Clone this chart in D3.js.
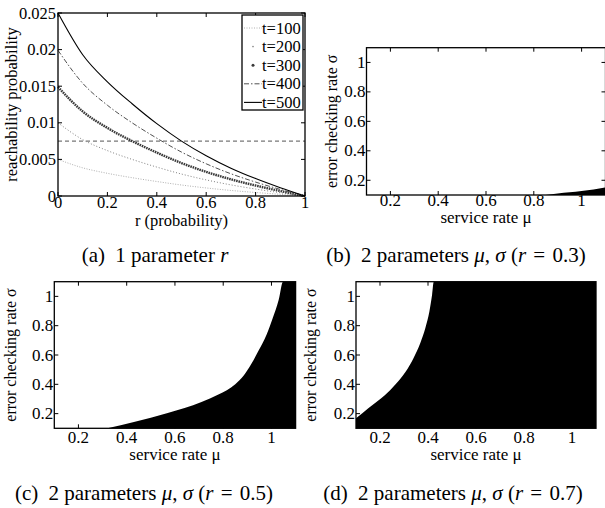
<!DOCTYPE html>
<html><head><meta charset="utf-8">
<script src="https://cdn.jsdelivr.net/npm/d3@7"></script>
<style>
body{margin:0;background:#fff}
svg{display:block}
text{font-family:"Liberation Serif","Times New Roman",serif;fill:#000}
</style>
</head><body><svg id="chart" width="605" height="508"></svg>
<script>
// ---------- data ----------
const rValues = [0, 0.1, 0.2, 0.3, 0.4, 0.5, 0.6, 0.7, 0.8, 0.9, 1];
const seriesNames = ["t=100", "t=200", "t=300", "t=400", "t=500"];
const reachT100 = [0.0050, 0.00385, 0.0031, 0.0025, 0.00198, 0.0015, 0.0011, 0.00076, 0.00048, 0.00023, 0];
const reachT200 = [0.0100, 0.0077, 0.0062, 0.0050, 0.00395, 0.0030, 0.0022, 0.00152, 0.00095, 0.00045, 0];
const reachT300 = [0.0149, 0.01155, 0.0093, 0.0075, 0.00593, 0.0045, 0.0033, 0.00228, 0.00143, 0.00068, 0];
const reachT400 = [0.0199, 0.0154, 0.0124, 0.0100, 0.0079, 0.0060, 0.0044, 0.00304, 0.0019, 0.0009, 0];
const reachT500 = [0.0250, 0.0193, 0.0156, 0.0126, 0.00988, 0.0075, 0.0055, 0.0038, 0.00238, 0.00113, 0];
const thresholdValue = 0.0075;

const rTicks = [0, 0.2, 0.4, 0.6, 0.8, 1];
const rTickLabels = ["0", "0.2", "0.4", "0.6", "0.8", "1"];
const probTicks = [0, 0.005, 0.01, 0.015, 0.02, 0.025];
const probTickLabels = ["0", "0.005", "0.01", "0.015", "0.02", "0.025"];
const muTicks = [0.2, 0.4, 0.6, 0.8, 1];
const muTickLabels = ["0.2", "0.4", "0.6", "0.8", "1"];
const sigmaTicks = [0.2, 0.4, 0.6, 0.8, 1];
const sigmaTickLabels = ["0.2", "0.4", "0.6", "0.8", "1"];

// boundary of the black region: sigma as a function of mu
const boundaryMuR03 = [0.85, 0.90, 0.95, 1.00, 1.05, 1.10];
const boundarySigmaR03 = [0.10, 0.11, 0.118, 0.127, 0.137, 0.152];
const boundaryMuR05 = [0.32, 0.43, 0.57, 0.71, 0.78, 0.85, 0.885, 0.915, 0.945, 0.98, 1.005, 1.03, 1.048, 1.10];
const boundarySigmaR05 = [0.10, 0.143, 0.205, 0.28, 0.33, 0.40, 0.46, 0.535, 0.625, 0.74, 0.85, 0.977, 1.10, 1.10];
const boundaryMuR07 = [0.10, 0.15, 0.22, 0.264, 0.306, 0.34, 0.368, 0.389, 0.406, 0.417, 0.424, 1.10];
const boundarySigmaR07 = [0.168, 0.235, 0.325, 0.398, 0.484, 0.58, 0.682, 0.784, 0.898, 1.011, 1.10, 1.10];

// ---------- drawing ----------
const svg = d3.select("#chart");

function frameAndTicks(g, x, y, xt, xtl, yt, ytl, opt) {
  const [x0, x1] = x.range(), [y0, y1] = y.range();
  const tl = 4;
  const tk = g.append("g").attr("stroke", "#000").attr("stroke-width", 1);
  xt.forEach(v => {
    const px = x(v);
    tk.append("line").attr("x1", px).attr("x2", px).attr("y1", y0).attr("y2", y0 - tl);
    tk.append("line").attr("x1", px).attr("x2", px).attr("y1", y1).attr("y2", y1 + tl);
  });
  yt.forEach(v => {
    const py = y(v);
    tk.append("line").attr("x1", x0).attr("x2", x0 + tl).attr("y1", py).attr("y2", py);
    tk.append("line").attr("x1", x1).attr("x2", x1 - tl).attr("y1", py).attr("y2", py);
  });
  g.append("rect").attr("x", x0).attr("y", y1).attr("width", x1 - x0).attr("height", y0 - y1)
    .attr("fill", "none").attr("stroke", "#000").attr("stroke-width", 1.3);
  xt.forEach((v, i) => {
    g.append("text").attr("x", x(v)).attr("y", y0 + opt.xLabelDy).attr("text-anchor", "middle")
      .attr("font-size", opt.fs).text(xtl[i]);
  });
  yt.forEach((v, i) => {
    g.append("text").attr("x", x0 - opt.yLabelDx).attr("y", y(v)).attr("text-anchor", "end")
      .attr("dominant-baseline", "central").attr("font-size", opt.fs).text(ytl[i]);
  });
}

function caption(cx, cy, parts) {
  const t = svg.append("text").attr("x", cx).attr("y", cy).attr("text-anchor", "middle").attr("font-size", 21);
  parts.forEach(p => {
    const s = t.append("tspan").text(p[0]);
    if (p[1]) s.attr("font-style", "italic");
    if (p[2]) s.attr("dx", p[2]);
  });
}

// ---- panel (a) ----
(function () {
  const g = svg.append("g");
  const x = d3.scaleLinear().domain([0, 1]).range([58, 305]);
  const y = d3.scaleLinear().domain([0, 0.025]).range([196, 13]);
  const seriesData = [reachT100, reachT200, reachT300, reachT400, reachT500];
  const styles = [
    {stroke: "#b0b0b0", w: 1, dash: "1,1.5"},
    {stroke: "#808080", w: 1, dash: "1,2"},
    {stroke: "#3a3a3a", w: 2.4, dash: "1.6,0.8"},
    {stroke: "#505050", w: 1, dash: "5,2,1.5,2"},
    {stroke: "#000", w: 1.1, dash: null}
  ];
  g.append("line").attr("x1", x(0)).attr("x2", x(1)).attr("y1", y(thresholdValue)).attr("y2", y(thresholdValue))
    .attr("stroke", "#555").attr("stroke-width", 1).attr("stroke-dasharray", "4,3");
  const line = d3.line().x(d => x(d[0])).y(d => y(d[1])).curve(d3.curveMonotoneX);
  seriesData.forEach((vals, i) => {
    const st = styles[i];
    g.append("path").datum(rValues.map((r, j) => [r, vals[j]])).attr("d", line)
      .attr("fill", "none").attr("stroke", st.stroke).attr("stroke-width", st.w)
      .attr("stroke-dasharray", st.dash);
  });
  frameAndTicks(g, x, y, rTicks, rTickLabels, probTicks, probTickLabels,
    {fs: 16.5, xLabelDy: 11.5, yLabelDx: 2});
  g.append("text").attr("x", (58 + 305) / 2).attr("y", 226).attr("text-anchor", "middle")
    .attr("font-size", 16.5).text("r (probability)");
  g.append("text").attr("transform", "translate(17," + ((13 + 196) / 2) + ") rotate(-90)")
    .attr("text-anchor", "middle").attr("font-size", 16.5).text("reachability probability");
  // legend
  const lx = 242, ly = 15, lw = 61, lh = 95;
  g.append("rect").attr("x", lx).attr("y", ly).attr("width", lw).attr("height", lh)
    .attr("fill", "#fff").attr("stroke", "#000").attr("stroke-width", 1.3);
  seriesNames.forEach((name, i) => {
    const cy = ly + 13 + i * 18.6;
    const st = styles[i];
    if (i === 1 || i === 2) {
      g.append("circle").attr("cx", lx + 11).attr("cy", cy).attr("r", i === 1 ? 0.8 : 1.5).attr("fill", st.stroke);
    } else {
      g.append("line").attr("x1", lx + 2).attr("x2", lx + 20).attr("y1", cy).attr("y2", cy)
        .attr("stroke", st.stroke).attr("stroke-width", st.w).attr("stroke-dasharray", st.dash);
    }
    g.append("text").attr("x", lx + 20).attr("y", cy).attr("dominant-baseline", "central")
      .attr("font-size", 16.5).text(name);
  });
})();

// ---- region panels ----
function regionPanel(box, muB, sigB, opt) {
  const g = svg.append("g");
  const x = d3.scaleLinear().domain([0.1, 1.1]).range([box.l, box.r]);
  const y = d3.scaleLinear().domain([0.1, 1.1]).range([box.b, box.t]);
  const id = "clip" + Math.round(box.l);
  svg.append("clipPath").attr("id", id).append("rect")
    .attr("x", box.l).attr("y", box.t).attr("width", box.r - box.l).attr("height", box.b - box.t);
  const area = d3.area().x(d => x(d[0])).y0(y(0.1)).y1(d => y(d[1])).curve(d3.curveMonotoneX);
  g.append("path").datum(muB.map((m, i) => [m, sigB[i]])).attr("d", area)
    .attr("fill", "#000").attr("clip-path", "url(#" + id + ")");
  frameAndTicks(g, x, y, muTicks, muTickLabels, sigmaTicks, sigmaTickLabels,
    {fs: 17, xLabelDy: opt.xLabelDy, yLabelDx: 1});
  g.append("text").attr("x", (box.l + box.r) / 2).attr("y", opt.xTitleY).attr("text-anchor", "middle")
    .attr("font-size", 17).text("service rate \u03BC");
  g.append("text").attr("transform", "translate(" + opt.yTitleX + "," + ((box.t + box.b) / 2) + ") rotate(-90)")
    .attr("text-anchor", "middle").attr("font-size", 16).text("error checking rate \u03C3");
}

regionPanel({l: 366.5, r: 605.5, t: 47.7, b: 195}, boundaryMuR03, boundarySigmaR03,
  {xLabelDy: 11, xTitleY: 223, yTitleX: 337});
regionPanel({l: 54.3, r: 295.6, t: 281.7, b: 428.3}, boundaryMuR05, boundarySigmaR05,
  {xLabelDy: 15, xTitleY: 460, yTitleX: 16});
regionPanel({l: 356, r: 596, t: 281.7, b: 428.3}, boundaryMuR07, boundarySigmaR07,
  {xLabelDy: 15, xTitleY: 460, yTitleX: 316});

// ---- captions ----
caption(155, 262, [["(a)"], [" 1 parameter ", false, 5], ["r", true]]);
caption(456, 262, [["(b)"], [" 2 parameters ", false, 5], ["\u03BC", true], [", "], ["\u03C3", true], [" ("], ["r", true], [" = ", false, 2], ["0.3)", false, 2]]);
caption(144, 500, [["(c)"], [" 2 parameters ", false, 5], ["\u03BC", true], [", "], ["\u03C3", true], [" ("], ["r", true], [" = ", false, 2], ["0.5)", false, 2]]);
caption(453, 500, [["(d)"], [" 2 parameters ", false, 5], ["\u03BC", true], [", "], ["\u03C3", true], [" ("], ["r", true], [" = ", false, 2], ["0.7)", false, 2]]);
</script>
</body></html>
